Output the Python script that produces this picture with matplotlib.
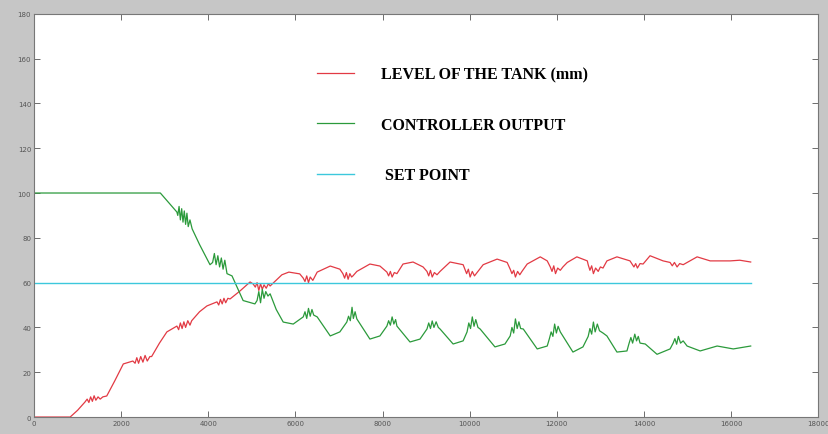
import matplotlib.pyplot as plt

# ==========================
#   DATA
# ==========================

# controller output (green)
ctrl_t = [0, 2900, 3280, 3300, 3330, 3360, 3390, 3420, 3450, 3480, 3510, 3540, 3580, 3630,
          3800, 4040, 4100, 4140, 4180, 4220, 4260, 4300, 4340, 4380, 4430,
          4545, 4660, 4800, 5070, 5120, 5160, 5200, 5240, 5280, 5320, 5370, 5420,
          5560, 5720, 5950, 6180, 6220, 6260, 6300, 6340, 6380, 6420, 6500,
          6800, 7020, 7180, 7220, 7260, 7300, 7330, 7370, 7410,
          7710, 7940, 8100, 8140, 8180, 8220, 8260, 8300, 8330,
          8630, 8860, 9020, 9060, 9100, 9140, 9180, 9230, 9280, 9320,
          9620, 9850, 9940, 9980, 10020, 10060, 10100, 10140, 10190, 10240,
          10580, 10810, 10930, 10970, 11010, 11050, 11090, 11130, 11170, 11230,
          11550, 11780, 11830, 11870, 11910, 11950, 11990, 12030, 12080,
          12370, 12600, 12720, 12760, 12800, 12840, 12880, 12930, 12980, 13060, 13150,
          13380, 13610, 13660, 13700, 13740, 13790, 13830, 13870, 13910,
          14030, 14300, 14600, 14670, 14710, 14750, 14790, 14840, 14900, 14990,
          15290, 15680, 16050, 16450]
ctrl_v = [100, 100, 91.5, 90, 94, 88, 93, 87, 92, 86, 91, 85, 88, 84,
          77, 68, 69, 73, 68, 72, 67, 71, 66, 70, 64,
          63, 58, 52, 50.5, 52, 56, 51, 57, 53, 56, 54, 55,
          48, 42.4, 41.5, 44.7, 47, 44, 48.5, 45, 48, 45.5, 44.7,
          36.2, 38, 42.4, 45, 43, 49, 44, 47, 43.8,
          34.8, 36.2, 40.6, 43, 41, 44.7, 41.5, 43.5, 40.6,
          33.5, 34.8, 39.3, 42, 39.5, 42.9, 40, 42.5, 40, 39.3,
          32.6, 34, 38, 42, 39.5, 44.7, 40.5, 43.5, 40, 39.3,
          31.3, 32.6, 36.2, 40, 37.5, 43.8, 39.5, 42.5, 39.5, 39.3,
          30.4, 31.7, 35, 38, 36, 41.5, 37.5, 40.5, 38,
          29, 31.3, 36, 39.5, 37, 42.4, 38, 41.5, 38.5, 37.5, 36.2,
          29, 29.5, 33, 35.5, 33, 37, 34, 36, 33,
          32.6, 28, 30.4, 33, 35, 32.5, 36, 33, 34, 31.7,
          29.5, 31.7, 30.4, 31.7]

# level of the tank (red)
level_t = [0, 830, 1000, 1170, 1220, 1260, 1300, 1340, 1380, 1420, 1470, 1520, 1580,
           1670, 1850, 2050, 2270, 2320, 2360, 2400, 2450, 2500, 2550, 2600, 2660,
           2700, 2880, 3050, 3280, 3320, 3360, 3400, 3440, 3480, 3530, 3580,
           3620, 3800, 3970, 4200, 4240, 4280, 4320, 4360, 4400, 4450, 4500,
           4730, 4960, 5030, 5080, 5120, 5160, 5200, 5240, 5280, 5330, 5380, 5420,
           5690, 5850, 6100, 6180, 6220, 6260, 6300, 6340, 6400,
           6500, 6800, 7020, 7090, 7130, 7170, 7210, 7250, 7290, 7320,
           7410, 7710, 7940, 8100, 8140, 8180, 8220, 8270, 8330,
           8470, 8700, 8930, 9020, 9060, 9100, 9140, 9190, 9250, 9320,
           9550, 9850, 9890, 9930, 9970, 10010, 10060, 10110, 10190,
           10310, 10630, 10860, 10930, 10970, 11010, 11050, 11100, 11150, 11200,
           11320, 11620, 11780, 11850, 11890, 11930, 11970, 12020, 12080, 12140,
           12240, 12460, 12700, 12720, 12760, 12800, 12840, 12890, 12950, 13000, 13060,
           13150, 13380, 13680, 13720, 13770, 13810, 13850, 13910, 13980,
           14140, 14440, 14600, 14650, 14700, 14760, 14820, 14900, 14990,
           15220, 15520, 15980, 16200, 16450]
level_v = [0, 0, 3, 6.7, 8, 6.5, 9, 7, 9.5, 7.5, 9, 8, 9,
           9.4, 16, 23.7, 25, 24, 26.5, 24, 27, 24.5, 27.5, 25, 27,
           27, 33, 38, 40.6, 39, 42, 39.5, 42.5, 40, 43, 41,
           43, 47, 49.6, 51.4, 50, 52.5, 50.5, 53, 51, 53, 52.7,
           56.3, 60.3, 59.4, 58, 60, 56.5, 59.5, 57, 59, 57.5, 59.5, 58.5,
           63.5, 64.7, 63.9, 62, 60.5, 63, 60, 62.5, 61,
           64.7, 67.4, 66, 64, 62, 64.5, 61.5, 64, 62.5, 63,
           65, 68.3, 67.4, 64.7, 63, 65, 62.5, 64.5, 64,
           68.3, 69.2, 67, 65, 63, 65.5, 62.5, 64.5, 63.5, 65,
           69.2, 68, 66, 64, 66, 62.5, 65, 63, 65,
           68, 70.5, 69, 66, 64, 65.5, 62.5, 65, 63.5, 65,
           68.3, 71.5, 69.7, 67, 65, 67.5, 64, 66.5, 65.5, 67,
           69, 71.5, 69.7, 68, 65.5, 67.5, 64, 66.5, 65, 67, 66.5,
           69.7, 71.5, 69.7, 68.5, 67, 68.5, 66.5, 68.5, 68.3,
           72, 69.7, 69, 67.5, 69, 67, 68.5, 68, 69,
           71.5, 69.7, 69.7, 70, 69.2]

# set point (cyan)
sp_t = [0, 16450]
sp_v = [60, 60]

labels = ["LEVEL OF THE TANK (mm)", "CONTROLLER OUTPUT", " SET POINT"]

# ==========================
#   PLOT
# ==========================
fig = plt.figure(figsize=(8.29, 4.35), dpi=100, facecolor='#c6c6c6')
ax = fig.add_axes([0.041, 0.039, 0.946, 0.927])
ax.set_facecolor('white')

l1, = ax.plot(level_t, level_v, color='#e23a44', linewidth=0.9)
l2, = ax.plot(ctrl_t, ctrl_v, color='#2b9a3b', linewidth=0.9)
l3, = ax.plot(sp_t, sp_v, color='#3cc8dc', linewidth=1.0)

ax.set_xlim(0, 18000)
ax.set_ylim(0, 180)
ax.set_xticks(range(0, 18001, 2000))
ax.set_yticks(range(0, 181, 20))
ax.tick_params(direction='in', top=True, right=True, length=4, width=0.6,
               labelsize=5, colors='#555555', pad=2)
for s in ax.spines.values():
    s.set_color('#777777')
    s.set_linewidth(0.8)

ax.legend([l1, l2, l3], labels, frameon=False, loc='upper left',
          bbox_to_anchor=(0.343, 0.905), labelspacing=2.15, handlelength=2.3,
          handletextpad=1.7,
          prop=dict(family='Liberation Serif', weight='bold', size=11.5))

fig.savefig('out.png', dpi=100, facecolor=fig.get_facecolor())
